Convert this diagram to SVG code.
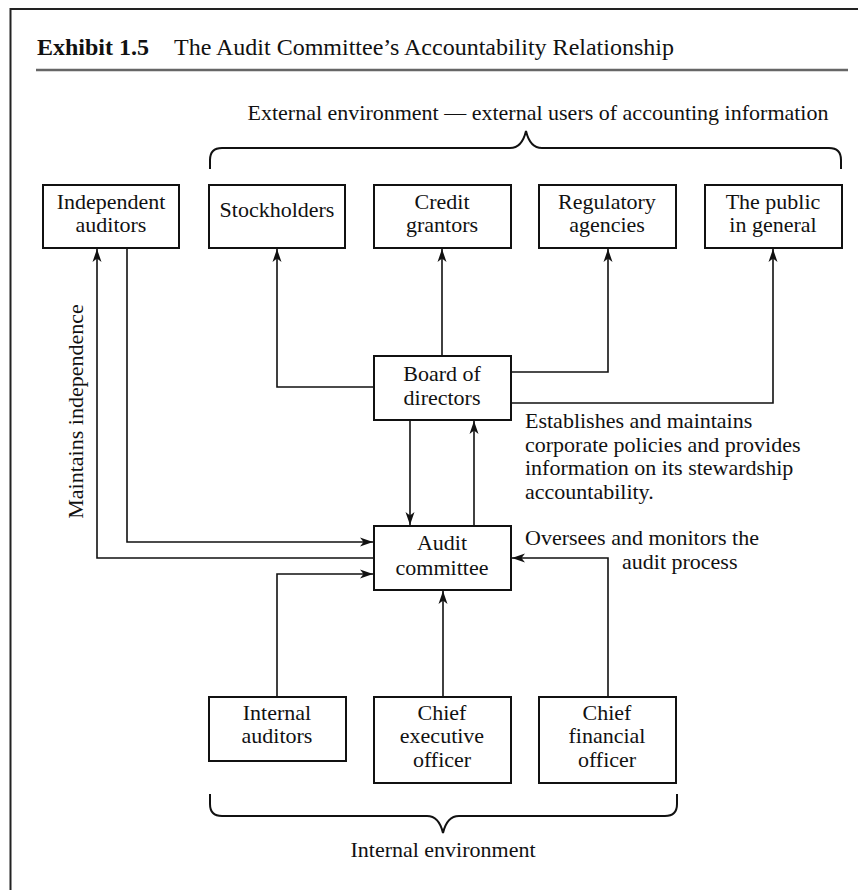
<svg xmlns="http://www.w3.org/2000/svg" width="858" height="890" viewBox="0 0 858 890">
<defs>
<style>
text{font-family:"Liberation Serif","Times New Roman",serif;font-size:22px;fill:#111}
.c{text-anchor:middle}
.box{fill:#fff;stroke:#111;stroke-width:2}
.ln{fill:none;stroke:#111;stroke-width:1.6}
.br{fill:none;stroke:#111;stroke-width:2}
.t{font-size:24px}
</style>
<marker id="arr" viewBox="-14 -6 15 12" refX="0" refY="0" markerWidth="15" markerHeight="12" orient="auto" markerUnits="userSpaceOnUse">
<path d="M0,0 L-13,-4.5 L-9.5,0 L-13,4.5 Z" fill="#111"/>
</marker>
</defs>
<rect width="858" height="890" fill="#fff"/>
<g id="frame">
<path d="M10.5,890 V9 H858" fill="none" stroke="#222" stroke-width="2"/>
<line x1="36" y1="70" x2="848" y2="70" stroke="#666" stroke-width="2.5"/>
<text class="t" x="37" y="55" font-weight="bold">Exhibit 1.5</text>
<text class="t" x="174" y="55">The Audit Committee’s Accountability Relationship</text>
</g>
<g id="external-brace">
<text x="538" y="120" class="c">External environment — external users of accounting information</text>
<path class="br" d="M210,169 V160 Q210,148 222,148 H510 Q522,148 526,131 Q530,148 542,148 H829 Q841,148 841,160 V169"/>
</g>
<g id="internal-brace">
<path class="br" d="M210,794 V804 Q210,816 222,816 H427 Q439,816 443,833 Q447,816 459,816 H665 Q677,816 677,804 V794"/>
<text x="443" y="857" class="c">Internal environment</text>
</g>
<g id="connectors">
<polyline class="ln" points="374,387 277,387 277,249" marker-end="url(#arr)"/>
<polyline class="ln" points="442,356 442,249" marker-end="url(#arr)"/>
<polyline class="ln" points="511,372 608,372 608,249" marker-end="url(#arr)"/>
<polyline class="ln" points="511,403 773,403 773,249" marker-end="url(#arr)"/>
<polyline class="ln" points="410,421 410,525" marker-end="url(#arr)"/>
<polyline class="ln" points="474,526 474,421" marker-end="url(#arr)"/>
<polyline class="ln" points="127,249 127,542 373,542" marker-end="url(#arr)"/>
<polyline class="ln" points="374,558 97,558 97,249" marker-end="url(#arr)"/>
<polyline class="ln" points="277,697 277,574 373,574" marker-end="url(#arr)"/>
<polyline class="ln" points="443,697 443,591" marker-end="url(#arr)"/>
<polyline class="ln" points="608,697 608,558 512,558" marker-end="url(#arr)"/>
</g>
<g id="n-independent"><rect class="box" x="43" y="185" width="136" height="63"/><text class="c" x="111" y="209">Independent</text><text class="c" x="111" y="232">auditors</text></g>
<g id="n-stockholders"><rect class="box" x="209" y="185" width="136" height="63"/><text class="c" x="277" y="217">Stockholders</text></g>
<g id="n-credit"><rect class="box" x="374" y="185" width="137" height="63"/><text class="c" x="442" y="209">Credit</text><text class="c" x="442" y="232">grantors</text></g>
<g id="n-regulatory"><rect class="box" x="539" y="185" width="137" height="63"/><text class="c" x="607" y="209">Regulatory</text><text class="c" x="607" y="232">agencies</text></g>
<g id="n-public"><rect class="box" x="705" y="185" width="137" height="63"/><text class="c" x="773" y="209">The public</text><text class="c" x="773" y="232">in general</text></g>
<g id="n-board"><rect class="box" x="374" y="356" width="137" height="64"/><text class="c" x="442" y="381">Board of</text><text class="c" x="442" y="405">directors</text></g>
<g id="n-audit"><rect class="box" x="374" y="526" width="137" height="64"/><text class="c" x="442" y="550">Audit</text><text class="c" x="442" y="575">committee</text></g>
<g id="n-internal"><rect class="box" x="209" y="697" width="137" height="64"/><text class="c" x="277" y="720">Internal</text><text class="c" x="277" y="743">auditors</text></g>
<g id="n-ceo"><rect class="box" x="374" y="697" width="137" height="86"/><text class="c" x="442" y="720">Chief</text><text class="c" x="442" y="743">executive</text><text class="c" x="442" y="767">officer</text></g>
<g id="n-cfo"><rect class="box" x="539" y="697" width="137" height="86"/><text class="c" x="607" y="720">Chief</text><text class="c" x="607" y="743">financial</text><text class="c" x="607" y="767">officer</text></g>
<g id="labels">
<text class="c" transform="translate(83,411.5) rotate(-90)">Maintains independence</text>
<text x="525" y="428">Establishes and maintains</text>
<text x="525" y="452">corporate policies and provides</text>
<text x="525" y="475">information on its stewardship</text>
<text x="525" y="499">accountability.</text>
<text x="525" y="545">Oversees and monitors the</text>
<text x="622" y="569">audit process</text>
</g>
</svg>
